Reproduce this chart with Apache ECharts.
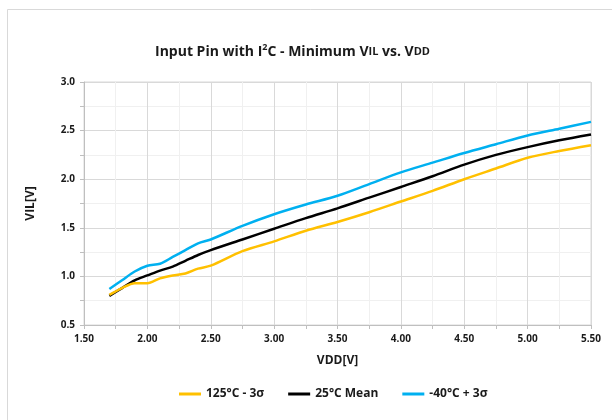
<!DOCTYPE html>
<html>
<head>
<meta charset="utf-8">
<script src="https://cdn.jsdelivr.net/npm/echarts@6/dist/echarts.min.js"></script>
<style>html,body{margin:0;padding:0;background:#fff;}#c{width:612px;height:420px;}</style>
</head>
<body>
<div id="c"></div>
<script>
var vdd = [1.7, 1.8, 1.9, 2.0, 2.1, 2.2, 2.3, 2.4, 2.5, 2.75, 3.0, 3.25, 3.5, 3.75, 4.0, 4.25, 4.5, 4.75, 5.0, 5.25, 5.5];
var hot = [0.81, 0.88, 0.93, 0.93, 0.98, 1.01, 1.03, 1.08, 1.11, 1.26, 1.36, 1.47, 1.56, 1.66, 1.77, 1.88, 2.00, 2.11, 2.22, 2.29, 2.35];
var mean = [0.80, 0.88, 0.96, 1.01, 1.06, 1.10, 1.16, 1.22, 1.27, 1.38, 1.49, 1.60, 1.70, 1.81, 1.92, 2.03, 2.15, 2.25, 2.33, 2.40, 2.46];
var cold = [0.87, 0.96, 1.05, 1.11, 1.13, 1.20, 1.27, 1.34, 1.38, 1.52, 1.64, 1.74, 1.83, 1.95, 2.07, 2.17, 2.27, 2.36, 2.45, 2.52, 2.59];
var seriesNames = ['125°C - 3σ', '25°C Mean', '-40°C + 3σ'];
var seriesColors = ['#FFC000', '#000000', '#00B0F0'];
var seriesData = [hot, mean, cold];

function pairs(arr) { return vdd.map(function (x, i) { return [x, arr[i]]; }); }

var font = '"Open Sans", "Noto Sans", sans-serif';
var chart = echarts.init(document.getElementById('c'), null, { renderer: 'canvas' });
chart.setOption({
  backgroundColor: '#fff',
  animation: false,
  graphic: [{
    type: 'rect', silent: true,
    shape: { x: 7.5, y: 9.5, width: 700, height: 500 },
    style: { fill: 'none', stroke: '#d9d9d9', lineWidth: 1 }
  }],
  title: {
    text: '{t|Input Pin with I}{sup|2}{t|C - Minimum V}{sc|IL}{t| vs. V}{sc|DD}',
    left: 150, top: 38,
    textStyle: {
      fontFamily: font, fontWeight: 'bold', fontSize: 14, color: '#1a1a1a',
      rich: {
        t: { fontFamily: font, fontWeight: 'bold', fontSize: 14, color: '#1a1a1a', lineHeight: 18, verticalAlign: 'middle' },
        sup: { fontFamily: font, fontWeight: 'bold', fontSize: 9, color: '#1a1a1a', lineHeight: 10, verticalAlign: 'top' },
        sc: { fontFamily: font, fontWeight: 'bold', fontSize: 11, color: '#1a1a1a', lineHeight: 14, verticalAlign: 'middle', padding: [0, 0, 1, 0] }
      }
    }
  },
  legend: {
    bottom: 15, left: 174,
    icon: 'rect', itemWidth: 22, itemHeight: 3, itemGap: 24,
    textStyle: { fontFamily: font, fontWeight: 'bold', fontSize: 12, color: '#1a1a1a' },
    data: seriesNames
  },
  grid: { left: 84, right: 21, top: 82, bottom: 95, containLabel: false,
    show: true, borderColor: '#d9d9d9', borderWidth: 1 },
  xAxis: {
    type: 'value', min: 1.5, max: 5.5, interval: 0.5,
    name: 'VDD[V]', nameLocation: 'middle', nameGap: 30,
    nameTextStyle: { fontFamily: font, fontWeight: 'bold', fontSize: 12, color: '#1a1a1a' },
    axisLine: { show: true, lineStyle: { color: '#bfbfbf' } },
    axisTick: { show: true, length: 4, lineStyle: { color: '#bfbfbf' } },
    minorTick: { show: true, splitNumber: 2, length: 4, lineStyle: { color: '#bfbfbf' } },
    splitLine: { show: true, lineStyle: { color: '#d9d9d9' } },
    minorSplitLine: { show: true, lineStyle: { color: '#f0f0f0' } },
    axisLabel: { fontFamily: font, fontWeight: 'bold', fontSize: 10, color: '#1a1a1a', margin: 9,
      formatter: function (v) { return v.toFixed(2); } }
  },
  yAxis: {
    type: 'value', min: 0.5, max: 3.0, interval: 0.5,
    name: 'VIL[V]', nameLocation: 'middle', nameGap: 47, nameRotate: 90,
    nameTextStyle: { fontFamily: font, fontWeight: 'bold', fontSize: 12, color: '#1a1a1a' },
    axisLine: { show: true, lineStyle: { color: '#bfbfbf' } },
    axisTick: { show: true, length: 4, lineStyle: { color: '#bfbfbf' } },
    minorTick: { show: true, splitNumber: 2, length: 4, lineStyle: { color: '#bfbfbf' } },
    splitLine: { show: true, lineStyle: { color: '#d9d9d9' } },
    minorSplitLine: { show: true, lineStyle: { color: '#f0f0f0' } },
    axisLabel: { fontFamily: font, fontWeight: 'bold', fontSize: 10, color: '#1a1a1a', margin: 9,
      formatter: function (v) { return v.toFixed(1); } }
  },
  series: seriesNames.map(function (n, i) {
    return {
      name: n, type: 'line', smooth: 0.3, showSymbol: false,
      data: pairs(seriesData[i]),
      itemStyle: { color: seriesColors[i] },
      lineStyle: { color: seriesColors[i], width: 2.5 },
      z: 3 - i
    };
  })
});
</script>
</body>
</html>
